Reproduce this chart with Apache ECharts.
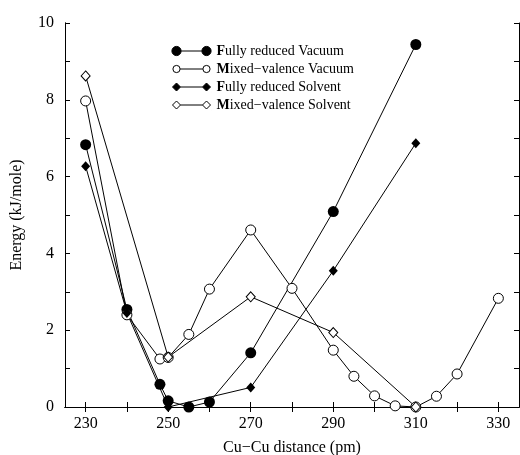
<!DOCTYPE html>
<html>
<head>
<meta charset="utf-8">
<script src="https://cdn.jsdelivr.net/npm/echarts@6/dist/echarts.min.js"></script>
<style>
html,body{margin:0;padding:0;background:#fff;}
#chart{width:520px;height:455px;}
</style>
</head>
<body>
<div id="chart"></div>
<script>
// Data
const seriesNames = ['Fully reduced Vacuum', 'Mixed\u2212valence Vacuum', 'Fully reduced Solvent', 'Mixed\u2212valence Solvent'];
const frVacX = [230, 240, 248, 250, 255, 260, 270, 290, 310];
const frVacY = [6.83, 2.54, 0.59, 0.16, 0.0, 0.13, 1.41, 5.09, 9.44];
const mvVacX = [230, 240, 248, 250, 255, 260, 270, 280, 290, 295, 300, 305, 310, 315, 320, 330];
const mvVacY = [7.97, 2.40, 1.25, 1.29, 1.89, 3.07, 4.61, 3.09, 1.48, 0.80, 0.29, 0.03, 0.0, 0.28, 0.86, 2.83];
const frSolX = [230, 240, 250, 270, 290, 310];
const frSolY = [6.27, 2.45, 0.0, 0.51, 3.55, 6.87];
const mvSolX = [230, 250, 270, 290, 310];
const mvSolY = [8.62, 1.30, 2.87, 1.94, 0.0];
const xTickValues = [230, 240, 250, 260, 270, 280, 290, 300, 310, 320, 330];
const xLabelValues = [230, 250, 270, 290, 310, 330];
const yTickValues = [0, 1, 2, 3, 4, 5, 6, 7, 8, 9, 10];
const yLabelValues = [0, 2, 4, 6, 8, 10];

const zip = (xs, ys) => xs.map((x, i) => [x, ys[i]]);
const FONT = '"Liberation Serif", "Times New Roman", serif';
const TICK = 5;

const chart = echarts.init(document.getElementById('chart'), null, {renderer: 'canvas'});

const axisCommon = {
  axisLine: {show: true, lineStyle: {color: '#000', width: 1}},
  splitLine: {show: false},
};

function tickAxis(pos, min, max, ticks) {
  return Object.assign({}, axisCommon, {
    type: 'value', position: pos, min: min, max: max,
    axisTick: {show: true, inside: true, length: TICK, lineStyle: {color: '#000'}, customValues: ticks},
    axisLabel: {show: false}
  });
}

function legendPath(shape, w, h, r) {
  const cy = h / 2;
  const c1 = 5, c2 = w - 5;
  if (shape === 'circle') {
    return 'path://M0,0 L0.01,0 M' + w + ',' + h + ' L' + (w - 0.01) + ',' + h +
      ' M' + (c1 - r) + ',' + cy + ' a' + r + ',' + r + ' 0 1,0 ' + (2 * r) + ',0 a' + r + ',' + r + ' 0 1,0 ' + (-2 * r) + ',0 Z' +
      ' M' + (c2 - r) + ',' + cy + ' a' + r + ',' + r + ' 0 1,0 ' + (2 * r) + ',0 a' + r + ',' + r + ' 0 1,0 ' + (-2 * r) + ',0 Z' +
      ' M' + (c1 + r) + ',' + cy + ' L' + (c2 - r) + ',' + cy;
  }
  return 'path://M0,0 L0.01,0 M' + w + ',' + h + ' L' + (w - 0.01) + ',' + h +
    ' M' + (c1 - r) + ',' + cy + ' L' + c1 + ',' + (cy - r) + ' L' + (c1 + r) + ',' + cy + ' L' + c1 + ',' + (cy + r) + ' Z' +
    ' M' + (c2 - r) + ',' + cy + ' L' + c2 + ',' + (cy - r) + ' L' + (c2 + r) + ',' + cy + ' L' + c2 + ',' + (cy + r) + ' Z' +
    ' M' + (c1 + r) + ',' + cy + ' L' + (c2 - r) + ',' + cy;
}

const richTxt = {
  b: {fontFamily: FONT, fontSize: 14, fontWeight: 'bold', color: '#000'},
  n: {fontFamily: FONT, fontSize: 14, color: '#000'}
};

const option = {
  animation: false,
  backgroundColor: '#fff',
  grid: {left: 65, top: 23, right: 1, bottom: 48, containLabel: false, outerBoundsMode: 'none'},
  legend: {
    orient: 'vertical',
    left: 166,
    top: 39,
    itemWidth: 40,
    itemHeight: 10,
    itemGap: 4,
    selectedMode: false,
    formatter: function (name) {
      return '{b|' + name.charAt(0) + '}{n|' + name.slice(1) + '}';
    },
    textStyle: {fontFamily: FONT, fontSize: 14, color: '#000', rich: richTxt},
    data: [
      {name: seriesNames[0], icon: legendPath('circle', 40, 10, 4.6), itemStyle: {color: '#000', borderColor: '#000', borderWidth: 1}},
      {name: seriesNames[1], icon: legendPath('circle', 40, 10, 3.6), itemStyle: {color: '#fff', borderColor: '#000', borderWidth: 1}},
      {name: seriesNames[2], icon: legendPath('diamond', 40, 10, 4), itemStyle: {color: '#000', borderColor: '#000', borderWidth: 1}},
      {name: seriesNames[3], icon: legendPath('diamond', 40, 10, 4), itemStyle: {color: '#fff', borderColor: '#000', borderWidth: 1}}
    ]
  },
  xAxis: [
    Object.assign({}, axisCommon, {
      type: 'value', position: 'bottom', min: 225, max: 335,
      name: 'Cu\u2212Cu distance (pm)', nameLocation: 'middle', nameGap: 33,
      nameTextStyle: {fontFamily: FONT, fontSize: 16, color: '#000'},
      axisTick: {show: false},
      axisLabel: {show: true, margin: 9, fontFamily: FONT, fontSize: 16, color: '#000', customValues: xLabelValues}
    }),
    tickAxis('top', 225, 335, xTickValues),
    tickAxis('bottom', 225, 335, xTickValues)
  ],
  yAxis: [
    Object.assign({}, axisCommon, {
      type: 'value', position: 'left', min: 0, max: 10,
      name: 'Energy (kJ/mole)', nameLocation: 'middle', nameGap: 40, nameRotate: 90,
      nameTextStyle: {fontFamily: FONT, fontSize: 16, color: '#000'},
      axisTick: {show: false},
      axisLabel: {show: true, margin: 11, fontFamily: FONT, fontSize: 16, color: '#000', customValues: yLabelValues}
    }),
    tickAxis('right', 0, 10, yTickValues),
    tickAxis('left', 0, 10, yTickValues)
  ],
  series: [
    {
      name: seriesNames[0], type: 'line', xAxisIndex: 0, yAxisIndex: 0,
      data: zip(frVacX, frVacY),
      symbol: 'circle', symbolSize: 11,
      lineStyle: {color: '#000', width: 1},
      itemStyle: {color: '#000', borderColor: '#000', borderWidth: 0}
    },
    {
      name: seriesNames[1], type: 'line', xAxisIndex: 0, yAxisIndex: 0,
      data: zip(mvVacX, mvVacY),
      symbol: 'circle', symbolSize: 10,
      lineStyle: {color: '#000', width: 1},
      itemStyle: {color: '#fff', borderColor: '#000', borderWidth: 1}
    },
    {
      name: seriesNames[2], type: 'line', xAxisIndex: 0, yAxisIndex: 0,
      data: zip(frSolX, frSolY),
      symbol: 'diamond', symbolSize: [9, 10],
      lineStyle: {color: '#000', width: 1},
      itemStyle: {color: '#000', borderColor: '#000', borderWidth: 0}
    },
    {
      name: seriesNames[3], type: 'line', xAxisIndex: 0, yAxisIndex: 0,
      data: zip(mvSolX, mvSolY),
      symbol: 'diamond', symbolSize: [9, 10],
      lineStyle: {color: '#000', width: 1},
      itemStyle: {color: '#fff', borderColor: '#000', borderWidth: 1}
    }
  ]
};

chart.setOption(option);
</script>
</body>
</html>
